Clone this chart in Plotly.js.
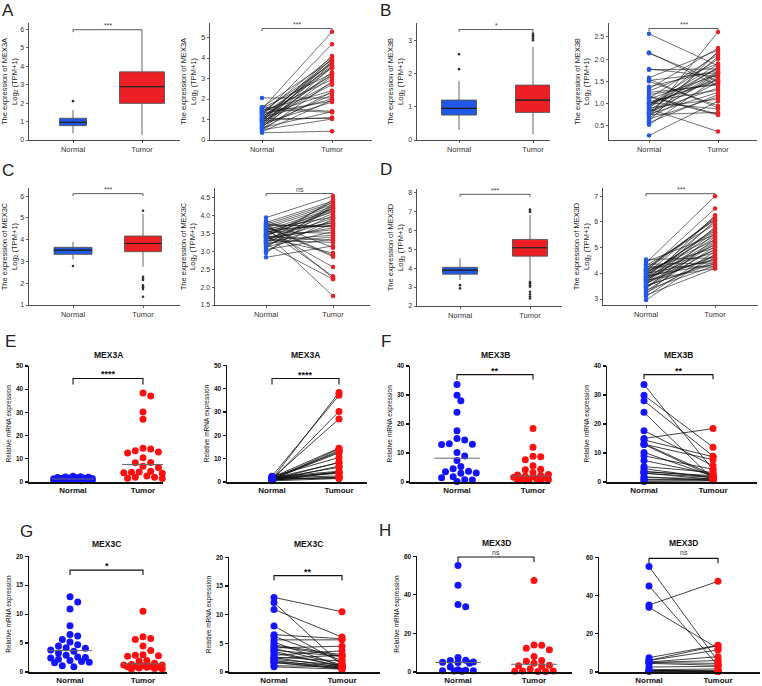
<!DOCTYPE html>
<html><head><meta charset="utf-8">
<script src="https://cdn.plot.ly/plotly-3.0.1.min.js"></script>
<style>html,body{margin:0;padding:0;background:#fff}#chart{width:762px;height:686px}</style>
</head><body><div id="chart"></div>
<script>
// ---------------- DATA ----------------
const catTop = ['Normal', 'Tumor'];
const catScatter = ['Normal', 'Tumor'];
const catPair = ['Normal', 'Tumour'];
const genes = ['MEX3A', 'MEX3B', 'MEX3C', 'MEX3D'];

// box statistics: [lower whisker, q1, median, q3, upper whisker]
const aBoxNormal = [0.36, 0.78, 0.96, 1.18, 1.63];
const aBoxTumor  = [0.27, 1.99, 2.89, 3.70, 5.87];
const aOutNormal = [2.11];
const aOutTumor  = [];
const bBoxNormal = [0.30, 0.75, 0.95, 1.20, 1.77];
const bBoxTumor  = [0.17, 0.83, 1.20, 1.65, 2.80];
const bOutNormal = [2.13, 2.58];
const bOutTumor  = [3.00, 3.05, 3.10, 3.15, 3.20];
const cBoxNormal = [3.10, 3.33, 3.52, 3.65, 3.90];
const cBoxTumor  = [2.76, 3.45, 3.83, 4.17, 5.20];
const cOutNormal = [2.79];
const cOutTumor  = [5.33, 2.30, 2.22, 2.15, 1.90, 1.82, 1.73, 1.38];
const dBoxNormal = [3.37, 3.68, 3.89, 4.04, 4.51];
const dBoxTumor  = [3.37, 4.63, 5.07, 5.51, 6.79];
const dOutNormal = [3.10, 2.93];
const dOutTumor  = [7.09, 7.02, 6.96, 3.28, 3.20, 3.10, 3.02, 2.75, 2.62, 2.50, 2.40];

// paired TCGA samples
const aPairNormal = [1.50,1.20,0.90,1.30,0.70,1.00,1.60,0.80,1.10,0.60,1.40,0.95,0.50,1.25,1.05,0.75,1.55,0.85,1.15,0.65,1.35,0.45,1.00,0.90,1.45,0.55,1.20,0.70,2.05,1.10,0.40,1.30,0.80,1.60,0.60,1.50,0.95,1.05,0.50,0.35];
const aPairTumor  = [5.28,4.67,4.10,4.05,4.00,3.95,3.90,3.85,3.80,3.78,3.72,3.65,3.60,3.55,3.50,3.30,3.25,3.20,3.15,3.10,2.95,2.85,2.78,2.70,2.40,2.35,2.30,2.20,2.05,2.00,1.95,1.90,1.85,1.40,1.38,1.35,1.10,1.05,1.02,0.43];
const bPairNormal = [2.57,2.15,2.13,1.78,1.76,1.58,1.55,1.52,1.38,1.33,1.28,1.20,1.17,1.12,1.10,1.05,1.02,1.00,0.98,0.95,0.92,0.90,0.88,0.85,0.82,0.80,0.78,0.76,0.75,0.72,0.70,0.68,0.65,0.60,0.57,0.52,0.28,1.15,0.95,1.25,0.80,1.50,1.00,0.90];
const bPairTumor  = [1.85,1.40,1.50,1.60,1.78,2.20,0.90,1.70,1.75,2.25,1.90,1.45,0.76,2.10,1.65,1.30,0.88,1.55,2.00,1.80,1.72,1.10,0.37,1.82,1.35,2.05,1.62,1.25,0.80,1.68,2.61,1.48,1.15,2.18,1.20,1.58,1.05,0.74,1.88,1.42,1.70,0.95,1.52,2.15];
const cPairNormal = [3.94,3.85,3.80,3.78,3.75,3.72,3.70,3.68,3.65,3.62,3.60,3.58,3.55,3.52,3.50,3.48,3.45,3.42,3.40,3.38,3.35,3.32,3.30,3.28,3.25,3.22,3.20,3.18,3.15,3.12,3.10,3.05,3.00,2.95,2.83,3.70,3.60,3.50,3.40,3.30,3.62,3.55,3.45,3.75,3.35,3.20];
const cPairTumor  = [4.54,3.10,4.40,2.25,4.35,3.70,4.30,2.85,4.25,3.95,2.56,4.20,3.50,4.15,1.75,3.80,4.10,3.30,4.38,2.95,3.65,4.05,3.25,3.85,4.45,3.40,2.22,3.75,4.00,3.55,4.32,3.35,3.90,4.28,3.15,2.88,3.72,4.18,3.60,3.45,2.30,3.78,4.12,3.68,3.92,4.22];
const dPairNormal = [4.54,4.45,4.40,4.35,4.30,4.25,4.20,4.15,4.12,4.08,4.05,4.00,3.97,3.93,3.90,3.87,3.83,3.80,3.77,3.73,3.70,3.66,3.62,3.58,3.55,3.50,3.45,3.40,3.35,3.30,3.25,3.20,3.15,3.10,2.96,4.10,3.95,3.85,3.75,3.60,4.02,3.68,3.48,3.88,4.18,3.52];
const dPairTumor  = [4.60,5.50,7.00,4.40,5.90,4.25,6.10,5.00,4.80,6.52,5.30,4.50,6.20,5.70,4.35,5.10,6.00,4.90,5.60,4.20,5.40,6.26,4.70,5.20,5.80,4.45,4.95,5.55,4.30,5.05,4.60,5.35,4.19,4.85,4.75,6.15,5.65,4.55,5.25,6.05,5.45,4.65,5.15,5.75,6.08,4.38];

// qPCR relative mRNA expression (paired samples)
const eNormal = [1.2,2.5,0.9,1.5,2.0,1.1,0.8,1.8,1.3,2.3,1.0,1.6,0.7,1.4,2.2,1.2,0.6,1.9,1.3,1.7,0.9,1.0,1.5,0.5];
const eTumor  = [38.3,37.1,30.2,27.0,14.5,14.2,13.5,12.9,12.5,10.5,8.4,8.3,6.8,6.3,4.6,4.3,4.2,4.0,3.8,2.6,2.1,2.0,1.6,1.5];
const fNormal = [33.6,29.9,28.0,24.0,17.7,15.0,14.5,13.2,13.0,12.9,10.2,9.0,7.4,5.3,4.6,3.7,3.5,3.1,3.0,1.8,1.5,0.8,0.7,0.2];
const fTumor  = [4.2,12.0,8.9,1.0,5.6,18.4,8.7,2.4,7.7,1.9,2.0,4.4,2.6,3.3,1.4,1.8,2.2,0.9,1.6,0.5,1.2,0.8,0.7,0.4];
const gNormal = [13.0,12.1,10.9,8.0,6.5,6.2,5.6,5.2,4.7,4.5,4.2,4.1,3.8,3.6,3.3,2.9,2.6,2.5,2.4,2.2,2.0,1.8,1.7,1.6,1.1,0.9];
const gTumor  = [10.5,1.2,6.1,1.5,5.8,2.0,5.6,1.0,3.0,2.8,4.5,1.3,2.7,0.9,1.1,3.7,1.9,0.8,2.9,1.2,0.6,1.0,0.5,0.7,0.9,0.5];
const hNormal = [55.2,45.0,35.0,33.8,7.5,6.1,6.0,5.2,5.0,4.9,4.5,2.6,1.2,0.9,0.7,0.6,0.5,0.4];
const hTumor  = [5.6,3.3,47.4,12.3,14.0,13.8,11.5,8.0,6.0,4.5,3.5,3.0,1.6,0.5,0.5,0.4,0.3,0.3];

const sigTop = ['***', '***', '*', '***', '***', 'ns', '***', '***'];
const sigBottom = ['****', '****', '**', '**', '*', '**', 'ns', 'ns'];

// ---------------- LAYOUT GEOMETRY (pixels) ----------------
const W = 762, H = 686;
const geo = [
 {L:29,R:180,T:23,B:140,xN:73,xT:142,ya:0,pya:140,yb:6,pyb:29.3},
 {L:210,R:372,T:23,B:140,xN:262,xT:332,ya:0,pya:140,yb:5,pyb:37.3},
 {L:417,R:550,T:23,B:140,xN:459,xT:533,ya:0,pya:140,yb:3,pyb:40},
 {L:609,R:757,T:23,B:140,xN:649,xT:718,ya:0.5,pya:125.7,yb:2.5,pyb:36.7},
 {L:29,R:180,T:188,B:305,xN:73,xT:143,ya:1,pya:305,yb:6,pyb:196},
 {L:215,R:370,T:188,B:305,xN:266,xT:333,ya:1.5,pya:305,yb:4.5,pyb:197.3},
 {L:417,R:562,T:189,B:306,xN:460,xT:530,ya:2,pya:306,yb:8,pyb:192},
 {L:603,R:758,T:188,B:305,xN:646,xT:715,ya:3,pya:299,yb:7,pyb:196},
 {L:29,R:163,T:365.7,B:482,xN:73,xT:143,ya:0,pya:482,yb:50,pyb:365.7},
 {L:227,R:367,T:365,B:482,xN:272,xT:339,ya:0,pya:482,yb:50,pyb:365},
 {L:410,R:550,T:365.7,B:482,xN:457,xT:533,ya:0,pya:482,yb:40,pyb:365.7},
 {L:607,R:757,T:365.7,B:482,xN:644,xT:713,ya:0,pya:482,yb:40,pyb:365.7},
 {L:29,R:167,T:556,B:672,xN:70,xT:143,ya:0,pya:672,yb:20,pyb:556},
 {L:229,R:380,T:557,B:672,xN:274,xT:342,ya:0,pya:672,yb:20,pyb:557},
 {L:417,R:572,T:556,B:672,xN:458,xT:534,ya:0,pya:672,yb:60,pyb:556},
 {L:599,R:760,T:557,B:672,xN:649,xT:718,ya:0,pya:672,yb:60,pyb:557}
];
const dticks = [1,1,1,0.5,1,0.5,1,1,10,10,10,10,5,5,20,20];
const brackets = [
 [5.99,2.5],[5.44,2.5],[3.32,2.5],[2.69,2.5],[6.12,2.5],[4.61,2.5],[7.89,2.5],[7.10,2.5],
 [44.6,6],[44.3,6],[37.0,5],[37.0,4.5],[17.6,5],[16.8,5],[59.6,5],[59.4,5]
];

const BLUE_TOP = '#2158e6', RED_TOP = '#ec1f24';
const BLUE = '#1414ff', RED = '#ff0f0f';
const FONT = 'Liberation Sans, Arial, sans-serif';

const traces = [];
const layout = {width: W, height: H, margin: {l:0, r:0, t:0, b:0}, paper_bgcolor: '#fff',
  plot_bgcolor: 'rgba(0,0,0,0)', showlegend: false, annotations: [], shapes: [], font: {family: FONT}};

const info = [];
function ids(i){ return i === 1 ? ['x','y','xaxis','yaxis'] : ['x'+i,'y'+i,'xaxis'+i,'yaxis'+i]; }

geo.forEach((g, k) => {
  const i = k + 1;
  const [xa, ya, xk, yk] = ids(i);
  const ppx = g.xT - g.xN;
  const ppy = (g.pya - g.pyb) / (g.yb - g.ya);
  const xr = [1 - (g.xN - g.L) / ppx, 2 + (g.R - g.xT) / ppx];
  const yr = [g.ya - (g.B - g.pya) / ppy, g.ya + (g.pya - g.T) / ppy];
  yr[1] += (yr[1] - yr[0]) * 0.002;
  info.push({ppx, ppy, xa, ya});
  const top = i <= 8;
  const pair = (i % 2 === 0);
  const cats = top ? catTop : (pair ? catPair : catScatter);
  const geneT = top ? genes[Math.floor((i - 1) / 2)] : genes[Math.floor((i - 9) / 2)];
  let ytitle = '';
  if (top) ytitle = 'The expression of ' + geneT + '<br>Log<sub>2</sub> (TPM+1)';
  else if (i !== 16) ytitle = 'Relative mRNA expression';
  layout[xk] = {
    domain: [g.L / W, g.R / W], range: xr, anchor: ya, fixedrange: true,
    showline: true, linecolor: top ? '#3a3a3a' : '#111', linewidth: top ? 0.9 : 1.5,
    showgrid: false, zeroline: false, tickmode: 'array', tickvals: [1, 2], ticktext: cats,
    ticks: top ? 'outside' : '', ticklen: 2, tickcolor: '#3a3a3a', tickwidth: 0.8,
    tickfont: top ? {size: 7.5, color: '#333', family: FONT} : {size: 8, color: '#111', family: FONT, weight: 'bold'}
  };
  const yax = {
    domain: [1 - g.B / H, 1 - g.T / H], range: yr, anchor: xa, fixedrange: true,
    showline: true, linecolor: top ? '#3a3a3a' : '#111', linewidth: top ? 0.9 : 1.5,
    showgrid: false, zeroline: false, dtick: dticks[k], tick0: 0,
    tickformat: dticks[k] < 1 ? '.1f' : 'd',
    ticks: 'outside', ticklen: top ? 2.5 : 3, tickcolor: top ? '#3a3a3a' : '#111', tickwidth: top ? 0.8 : 1.2,
    tickfont: top ? {size: 7, color: '#333', family: FONT} : {size: 6.5, color: '#111', family: FONT, weight: 'bold'}
  };
  if (ytitle) yax.title = {text: ytitle, font: top ? {size: 7.5, color: '#222', family: FONT} : {size: 6.5, color: '#111', family: FONT}, standoff: 3};
  layout[yk] = yax;
  const [lvl, dropPx] = brackets[k];
  const d = dropPx / ppy;
  traces.push({type: 'scatter', mode: 'lines', xaxis: xa, yaxis: ya, x: [1,1,2,2], y: [lvl-d, lvl, lvl, lvl-d],
    line: {color: top ? '#333' : '#111', width: top ? 0.8 : 1.1}, cliponaxis: false, hoverinfo: 'skip'});
  const sig = top ? sigTop[k] : sigBottom[k - 8];
  if (i < 15) {
    layout.annotations.push({xref: xa, yref: ya, x: 1.5, y: lvl, yanchor: 'bottom', showarrow: false,
      text: sig, yshift: top ? -1.5 : -3,
      font: top ? {size: 7, color: '#444', family: FONT} : {size: 9, color: '#111', family: FONT, weight: 'bold'}});
  }
});

// ---------- box plots ----------
function addBox(i, stats, outs, color, xpos, widthPx) {
  const {ppx, xa, ya} = info[i - 1];
  traces.push({type: 'box', xaxis: xa, yaxis: ya, x: [xpos],
    lowerfence: [stats[0]], q1: [stats[1]], median: [stats[2]], q3: [stats[3]], upperfence: [stats[4]],
    width: widthPx / ppx, fillcolor: color, line: {color: '#555', width: 0.9}, whiskerwidth: 0,
    boxpoints: false, hoverinfo: 'skip'});
  const hw = widthPx / ppx / 2;
  traces.push({type: 'scatter', mode: 'lines', xaxis: xa, yaxis: ya, x: [xpos - hw, xpos + hw], y: [stats[2], stats[2]],
    line: {color: '#1a1a1a', width: 1.1}, hoverinfo: 'skip'});
  if (outs.length) traces.push({type: 'scatter', mode: 'markers', xaxis: xa, yaxis: ya,
    x: outs.map(() => xpos), y: outs, marker: {size: 2.6, color: '#333'}, hoverinfo: 'skip'});
}
addBox(1, aBoxNormal, aOutNormal, BLUE_TOP, 1, 27);
addBox(1, aBoxTumor, aOutTumor, RED_TOP, 2, 45);
addBox(3, bBoxNormal, bOutNormal, BLUE_TOP, 1, 35);
addBox(3, bBoxTumor, bOutTumor, RED_TOP, 2, 35);
addBox(5, cBoxNormal, cOutNormal, BLUE_TOP, 1, 38);
addBox(5, cBoxTumor, cOutTumor, RED_TOP, 2, 37);
addBox(7, dBoxNormal, dOutNormal, BLUE_TOP, 1, 35);
addBox(7, dBoxTumor, dOutTumor, RED_TOP, 2, 35);

// ---------- paired plots ----------
function addPair(i, nv, tv, msize, lw, cb, cr) {
  const {xa, ya} = info[i - 1];
  const xs = [], ys = [];
  nv.forEach((v, j) => { xs.push(1, 2, null); ys.push(v, tv[j], null); });
  traces.push({type: 'scatter', mode: 'lines', xaxis: xa, yaxis: ya, x: xs, y: ys,
    line: {color: '#111', width: lw}, hoverinfo: 'skip', cliponaxis: false});
  traces.push({type: 'scatter', mode: 'markers', xaxis: xa, yaxis: ya, x: nv.map(() => 1), y: nv,
    marker: {size: msize, color: cb}, cliponaxis: false, hoverinfo: 'skip'});
  traces.push({type: 'scatter', mode: 'markers', xaxis: xa, yaxis: ya, x: tv.map(() => 2), y: tv,
    marker: {size: msize, color: cr}, cliponaxis: false, hoverinfo: 'skip'});
}
addPair(2, aPairNormal, aPairTumor, 4.5, 0.6, BLUE_TOP, RED_TOP);
addPair(4, bPairNormal, bPairTumor, 4.5, 0.6, BLUE_TOP, RED_TOP);
addPair(6, cPairNormal, cPairTumor, 4.5, 0.6, BLUE_TOP, RED_TOP);
addPair(8, dPairNormal, dPairTumor, 4.5, 0.6, BLUE_TOP, RED_TOP);
addPair(10, eNormal, eTumor, 7, 0.8, BLUE, RED);
addPair(12, fNormal, fTumor, 7, 0.8, BLUE, RED);
addPair(14, gNormal, gTumor, 7, 0.8, BLUE, RED);
addPair(16, hNormal, hTumor, 7, 0.8, BLUE, RED);

// ---------- scatter (swarm) plots ----------
function swarm(vals, ppy, D, maxW) {
  const idx = vals.map((v, j) => j).sort((a, b) => vals[b] - vals[a]);
  const placed = [], off = new Array(vals.length).fill(0);
  const step = D * 0.55, minD = D * 0.95;
  const cands = [0];
  for (let k = 1; k * step <= maxW + 0.01; k++) { cands.push(k * step, -k * step); }
  for (const j of idx) {
    const y = vals[j] * ppy;
    let best = null, bestDist = -1;
    for (const o of cands) {
      const md = placed.length ? Math.min(...placed.map(p => Math.hypot(p.x - o, p.y - y))) : Infinity;
      if (md >= minD) { best = o; bestDist = Infinity; break; }
      if (md > bestDist) { bestDist = md; best = o; }
    }
    off[j] = best; placed.push({x: best, y});
  }
  return off;
}
function median(a) { const s = [...a].sort((p, q) => p - q); const n = s.length;
  return n % 2 ? s[(n - 1) / 2] : (s[n / 2 - 1] + s[n / 2]) / 2; }
function addScatter(i, nv, tv) {
  const {ppx, ppy, xa, ya} = info[i - 1];
  [[nv, 1, BLUE], [tv, 2, RED]].forEach(([vals, xpos, col]) => {
    const off = swarm(vals, ppy, 7, 22);
    traces.push({type: 'scatter', mode: 'markers', xaxis: xa, yaxis: ya,
      x: vals.map((v, j) => xpos + off[j] / ppx), y: vals, marker: {size: 7, color: col},
      cliponaxis: false, hoverinfo: 'skip'});
    const m = median(vals);
    traces.push({type: 'scatter', mode: 'lines', xaxis: xa, yaxis: ya, x: [xpos - 0.3, xpos + 0.3], y: [m, m],
      line: {color: '#666', width: 1}, hoverinfo: 'skip'});
  });
}
addScatter(9, eNormal, eTumor);
addScatter(11, fNormal, fTumor);
addScatter(13, gNormal, gTumor);
addScatter(15, hNormal, hTumor);

// ---------- titles, letters ----------
const titleY = [355, 355, 355, 355, 544, 544, 543, 543];
for (let k = 0; k < 8; k++) {
  const i = 9 + k;
  layout.annotations.push({xref: info[i - 1].xa, yref: 'paper', x: 1.5, y: 1 - titleY[k] / H, yanchor: 'middle',
    showarrow: false, text: genes[Math.floor(k / 2)], font: {size: 8.5, color: '#111', family: FONT, weight: 'bold'}});
}
[15, 16].forEach(i => layout.annotations.push({xref: info[i - 1].xa, yref: 'paper', x: 1.5, y: 1 - 552 / H,
  yanchor: 'middle', showarrow: false, text: 'ns', font: {size: 7, color: '#333', family: FONT}}));

const letters = [['A',8,10],['B',385,10],['C',8,170],['D',386,169],['E',10,342],['F',386,341],['G',26,531],['H',385,530]];
letters.forEach(([t, x, y]) => layout.annotations.push({xref: 'paper', yref: 'paper', x: x / W, y: 1 - y / H,
  xanchor: 'center', yanchor: 'middle', showarrow: false, text: t, font: {size: 17, color: '#222', family: FONT}}));

Plotly.newPlot('chart', traces, layout, {staticPlot: true, displayModeBar: false});
</script></body></html>
